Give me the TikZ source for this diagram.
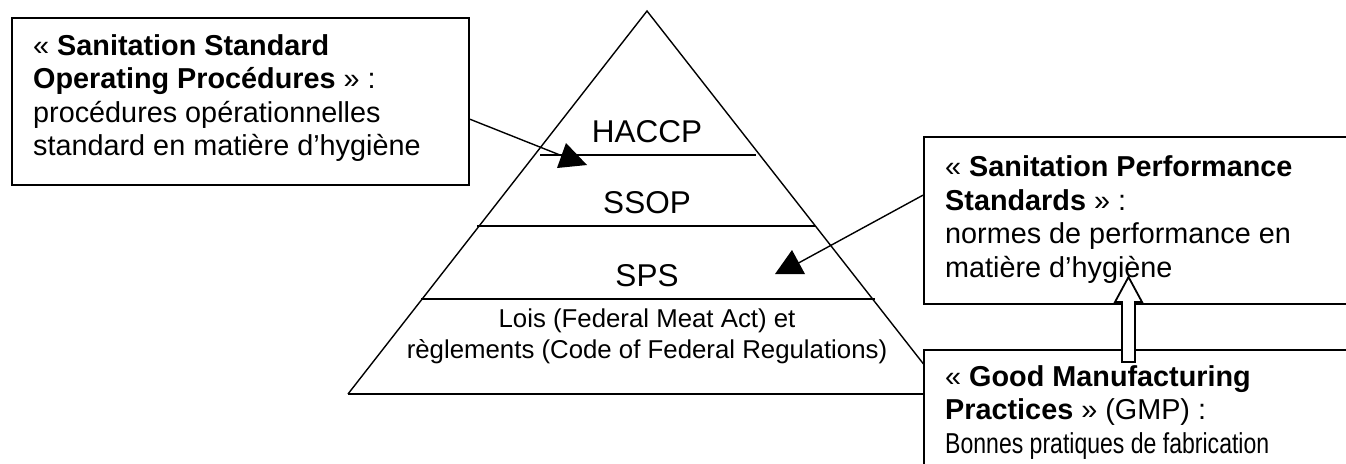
\documentclass[tikz,border=0pt]{standalone}
\usepackage{fontspec}
\setmainfont{Liberation Sans}
\newfontfamily\narrowfont[FakeStretch=0.8]{Liberation Sans}
\usetikzlibrary{calc}

\tikzset{
  tier/.style={font=\fontsize{31.5}{36}\selectfont, inner sep=0pt, anchor=base},
  level/.style={line width=2pt},
  notebox/.style={draw, line width=2pt, fill=white, anchor=north west, inner sep=0pt},
  notetext/.style={font=\fontsize{28.8}{33.5}\selectfont, align=left, anchor=base west, inner sep=0pt},
  pointer/.style={line width=1.4pt},
  tiphead/.style={fill=black},
  hollow/.style={draw, fill=white, line width=1.8pt, line join=miter},
}

\begin{document}
\begin{tikzpicture}[x=1pt, y=-1pt]
  \useasboundingbox (0,0) rectangle (1346,463);
  \clip (0,0) rectangle (1346,463);
  % pyramid
  \coordinate (apex) at (647,11);
  \coordinate (baseL) at (348,394);
  \coordinate (baseR) at (947,394);
  \draw [line width=1.4pt] (baseL) -- (apex) -- (baseR);
  \draw [level] (baseL) -- (baseR);
  \foreach \y/\l/\r in {155/540/756, 226/477/815, 299/421/875}
      \draw [level] (\l,\y) -- (\r,\y);
  \node [tier] (haccp) at (647,142) {HACCP};
  \node [tier] (ssop) at (647,213) {SSOP};
  \node [tier] (sps) at (647,286) {SPS};
  % base anchor of a multi-line node = last line
  \node [font=\fontsize{25.8}{31}\selectfont, align=center, anchor=base, inner sep=0pt] (lois) at (647,358)
      {Lois (Federal Meat Act) et\\règlements (Code of Federal Regulations)};
  % boxes
  \node [notebox, minimum width=457, minimum height=167] (ssopbox) at (11,17) {};
  \node [notebox, minimum width=500, minimum height=167] (spsbox) at (923,136) {};
  \node [notebox, minimum width=500, minimum height=200] (gmpbox) at (923,349) {};
  \node [notetext] (ssoptext) at (33,155.5)
      {« \textbf{Sanitation Standard}\\
       \textbf{Operating Procédures} » :\\
       procédures opérationnelles\\
       standard en matière d’hygiène};
  \node [notetext] (spstext) at (945,277)
      {« \textbf{Sanitation Performance}\\
       \textbf{Standards} » :\\
       normes de performance en\\
       matière d’hygiène};
  \node [notetext] (gmptext) at (945,453)
      {« \textbf{Good Manufacturing}\\
       \textbf{Practices} » (GMP) :\\
       {\narrowfont Bonnes pratiques de fabrication}};
  % pointers
  \coordinate (ssoptip) at (570,159);
  \coordinate (spstip) at (793,266);
  \draw [pointer] ($(ssopbox.north east)!0.605!(ssopbox.south east)$) -- (ssoptip);
  \fill [tiphead] ($(ssoptip)+(-4,-16)$) -- ($(ssoptip)+(-13,9)$) -- ($(ssoptip)+(17,6)$) -- cycle;
  \draw [pointer] ($(spsbox.north west)!0.35!(spsbox.south west)$) -- (spstip);
  \fill [tiphead] ($(spstip)+(-1,-16)$) -- ($(spstip)+(-18,8)$) -- ($(spstip)+(12,8)$) -- cycle;
  % hollow arrow
  \coordinate (gmptip) at (1128.5,277);
  \draw [hollow] (gmptip) -- ++(13.5,25) -- ++(-7,0) -- ++(0,60) -- ++(-13,0)
      -- ++(0,-60) -- ++(-7,0) -- cycle;
\end{tikzpicture}
\end{document}
